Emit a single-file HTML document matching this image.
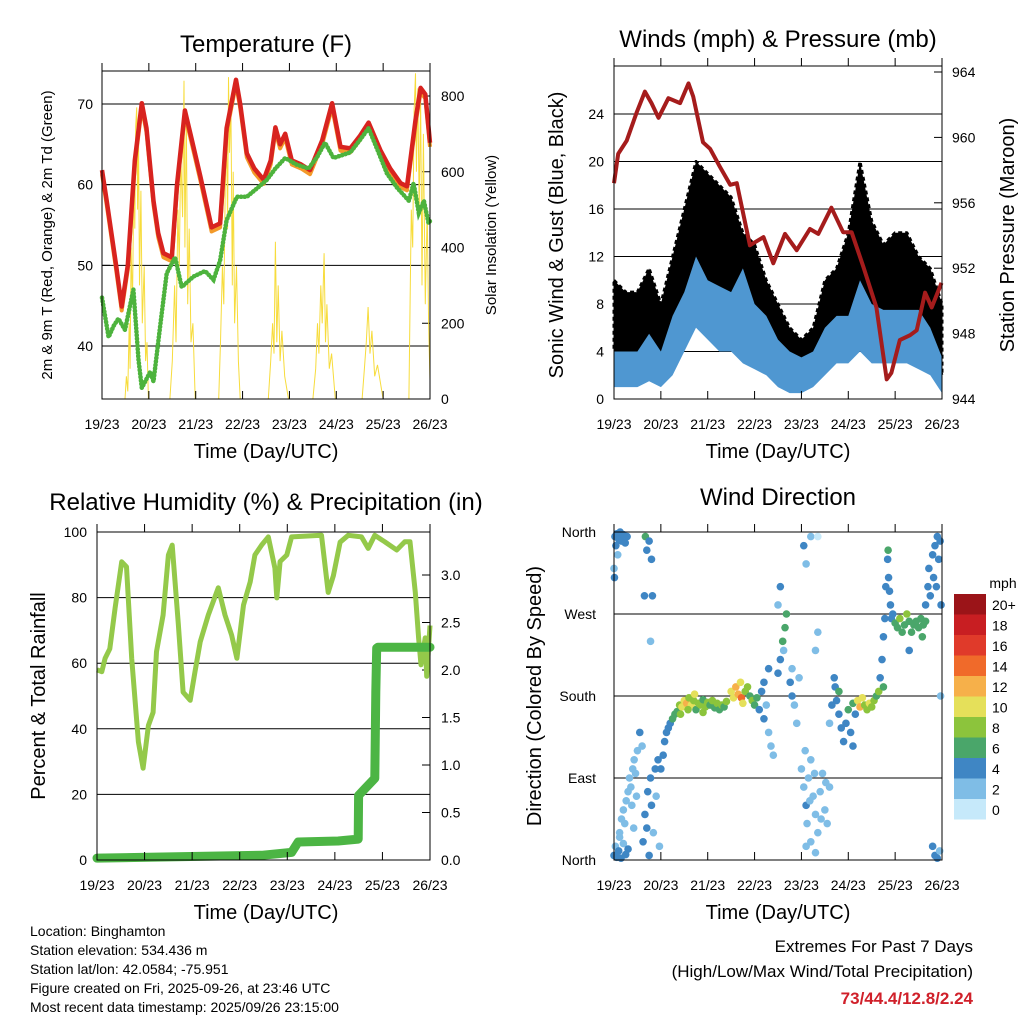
<!DOCTYPE html>
<html><head><meta charset="utf-8">
<style>
body{margin:0;background:#fff;font-family:"Liberation Sans",sans-serif;}
svg text{font-family:"Liberation Sans",sans-serif;fill:#000;}
</style></head>
<body>
<svg id="c" width="1024" height="1024" viewBox="0 0 1024 1024" xmlns="http://www.w3.org/2000/svg">
<rect width="1024" height="1024" fill="#fff"/>
</svg>
<script>
// ---------- data ----------
const dayLabels=["19/23","20/23","21/23","22/23","23/23","24/23","25/23","26/23"];
const tempT=[0,0.1,0.2,0.3,0.42,0.55,0.7,0.85,0.95,1.1,1.2,1.31,1.49,1.6,1.77,1.9,2.1,2.34,2.52,2.66,2.86,2.95,3.09,3.25,3.45,3.6,3.7,3.8,3.91,4.05,4.25,4.44,4.7,4.91,5.09,5.3,5.5,5.69,5.94,6.15,6.37,6.51,6.69,6.8,6.9,7.0];
const tempV=[61.8,58,54,50,44.9,50,63,70.1,67,58,54,51.5,51,60,69.2,66,61,54.7,55.2,67,73,70,63.9,62,60.6,63,67.1,65,66.3,63,62.5,61.8,65.5,70.1,64.7,64.5,66,67.7,64.3,62,60.2,59.8,68,72,71.2,65.2];
const tdT=[0,0.14,0.25,0.35,0.49,0.67,0.78,0.85,1.03,1.1,1.24,1.38,1.56,1.7,1.95,2.2,2.38,2.52,2.66,2.88,3.09,3.3,3.52,3.7,3.91,4.15,4.41,4.6,4.76,4.94,5.3,5.5,5.69,5.9,6.08,6.3,6.55,6.65,6.76,6.87,6.97,7.0];
const tdV=[46,41.1,42.5,43.4,42,47,38.3,34.8,36.8,35.6,42.4,49,51,47.3,48.6,49.3,48.2,50.6,55.6,58.5,58.5,59.5,60.6,62,63.3,62.5,62,63.5,65.2,63.3,64,65.5,67,64,61.4,59.6,58,60.2,56.5,58,55.2,55.5];
const solarT=[0.49,0.52,0.55,0.58,0.6,0.62,0.65,0.68,0.7,0.72,0.74,0.76,0.78,0.8,0.83,0.86,0.9,0.93,0.96,0.99,1.45,1.5,1.55,1.58,1.62,1.65,1.68,1.72,1.75,1.77,1.8,1.83,1.86,1.9,1.94,1.99,2.49,2.53,2.57,2.6,2.63,2.66,2.68,2.7,2.72,2.75,2.78,2.8,2.83,2.87,2.91,2.95,3.55,3.6,3.64,3.67,3.7,3.73,3.76,3.8,3.84,3.9,3.98,4.5,4.56,4.6,4.63,4.67,4.7,4.74,4.77,4.8,4.85,4.9,4.98,5.55,5.6,5.64,5.68,5.72,5.76,5.82,5.88,6.0,6.55,6.58,6.6,6.63,6.66,6.69,6.71,6.74,6.77,6.8,6.83,6.86,6.9,6.94,6.97,7.0];
const solarV=[0,60,20,200,80,400,250,600,450,720,770,500,700,300,550,200,350,100,150,0,0,100,300,150,500,350,650,480,840,400,750,250,450,150,200,0,0,150,350,250,550,700,450,850,650,780,300,600,200,350,100,0,0,100,200,120,415,150,300,100,180,60,0,0,80,200,120,300,200,385,150,250,80,120,0,0,80,150,243,120,180,60,90,0,0,300,500,400,760,860,600,820,500,800,300,700,250,500,200,50];
const windT=[0,0.25,0.5,0.75,1,1.25,1.5,1.75,2,2.25,2.5,2.75,3,3.25,3.5,3.75,4,4.25,4.5,4.75,5,5.25,5.5,5.75,6,6.25,6.5,6.75,7];
const gustLo=[4,4,4,5,3,5,8,11,10,9,8,7,5,4,3,2.5,2.5,3,5,6,6,9,7,6,6,6,6,5,2];
const gustHi=[10,9,9,11,8,12,16,20,19,18,17,14,13,10,8,6,5,6,10,11,14,20,15,13,14,14,12,11,8];
const blueLo=[1,1,1,1.5,1,2,4,6,5,4,4,3,2.5,2,1,0.5,0.5,1,2,3,3,4,3,3,3,3,2.5,2,0.5];
const blueHi=[4,4,4,5.5,4,7,9,12,10,9.5,9,11,8,7,5,4,3.5,4,6,7,7,10,8,7.5,7.5,7.5,7.5,6,3.5];
const presT=[0,0.09,0.27,0.48,0.66,0.8,0.95,1.16,1.41,1.59,1.69,1.9,2.05,2.26,2.48,2.62,2.9,3.19,3.4,3.65,3.9,4.18,4.36,4.64,4.89,5.07,5.32,5.6,5.82,5.92,6.1,6.32,6.46,6.64,6.78,6.99];
const presV=[957.2,959,959.8,961.5,962.8,962.1,961.2,962.4,962.1,963.3,962.5,959.7,959.3,958.2,957.1,957.2,953.4,953.9,952.3,954.1,953.1,954.4,954.1,955.7,954.2,954.2,952.1,949.6,945.2,945.6,947.6,947.9,948.2,950.5,949.6,951.1];
const rhT=[0,0.1,0.17,0.27,0.38,0.52,0.62,0.73,0.87,0.97,1.08,1.18,1.25,1.39,1.5,1.58,1.71,1.81,1.96,2.06,2.17,2.34,2.55,2.69,2.83,2.94,3.08,3.22,3.32,3.46,3.6,3.74,3.78,3.85,3.99,4.09,4.72,4.86,4.97,5.11,5.28,5.56,5.7,5.84,6.05,6.3,6.47,6.58,6.69,6.76,6.81,6.9,6.93,7.0];
const rhV=[58,57.4,61.5,64.4,76.8,90.9,89.4,61.5,36,28,41,45,63.5,74.7,93,96,72,51.2,48.7,57.4,66.5,74.7,83,74.7,68.6,61.5,77.7,84.8,93,96,98.5,89,79.9,91,93,98.5,99,81.6,86.7,96.9,99,98.5,95,99,97,94.5,97,97,81.6,67.7,59.5,67.7,56,71.5];
const prT=[0,3.46,4.09,4.23,5.07,5.49,5.5,5.63,5.84,5.86,5.88,5.91,7];
const prV=[0.02,0.05,0.08,0.19,0.2,0.22,0.68,0.75,0.86,1.77,2.23,2.24,2.24];
const dirPts=[[0.02,355,3],[0.04,345,4],[0.06,358,3],[0.08,335,2],[0.1,352,4],[0.13,360,4],[0.16,350,3],[0.2,357,4],[0.24,348,4],[0.28,355,3],[0.0,320,2],[0.01,310,3],
[0.0,5,3],[0.03,15,2],[0.06,3,4],[0.1,10,3],[0.15,2,4],[0.2,18,2],[0.25,6,3],[0.3,12,4],[0.12,25,2],
[0.12,30,2],[0.16,45,2],[0.2,55,2],[0.23,40,2],[0.26,65,2],[0.3,75,2],[0.33,90,2],[0.36,80,2],[0.4,100,2],[0.43,110,2],[0.46,95,2],[0.5,120,2],[0.55,140,3],[0.6,125,2],[0.38,60,2],[0.42,35,2],[0.48,70,2],
[0.62,20,3],[0.66,50,4],[0.7,35,3],[0.72,75,4],[0.75,5,3],[0.78,90,4],[0.8,60,3],[0.84,30,2],[0.88,100,4],[0.9,70,2],[0.94,110,3],[0.97,15,2],[0.67,355,6],[0.7,340,4],[0.75,350,3],[0.8,330,4],[0.82,290,4],[0.65,290,3],[0.78,240,2],
[1.0,100,3],[1.05,115,4],[1.08,130,4],[1.12,140,4],[1.16,145,4],[1.2,150,4],[1.25,155,5],[1.3,160,6],
[1.35,163,6],[1.4,170,7],[1.45,168,10],[1.5,175,9],[1.55,172,12],[1.6,178,8],[1.65,170,9],[1.7,175,7],[1.75,165,6],[1.8,172,8],[1.85,170,7],[1.9,176,6],[1.95,168,8],[2.0,173,7],[2.05,170,6],[2.1,175,8],[2.15,167,6],[2.2,172,7],[2.25,165,6],[2.3,170,7],[2.35,168,6],[2.4,174,8],[1.42,160,7],[1.58,165,8],[1.72,182,10],[1.9,162,7],
[2.5,185,10],[2.55,178,9],[2.6,190,11],[2.65,182,12],[2.7,195,10],[2.72,178,13],[2.75,172,9],[2.8,185,8],[2.85,190,7],[2.9,180,6],[2.95,175,7],[3.0,170,5],[3.05,178,6],
[3.1,165,4],[3.15,185,3],[3.2,155,4],[3.25,170,2],[3.3,140,2],[3.35,125,2],[3.4,115,2],[3.2,195,4],[3.3,210,3],
[3.5,205,4],[3.55,220,4],[3.6,240,6],[3.65,255,6],[3.68,270,6],[3.62,230,2],[3.5,280,2],[3.55,300,4],
[3.76,195,3],[3.8,180,4],[3.85,170,2],[3.9,150,2],[3.95,200,2],[3.8,210,2],
[4.0,100,2],[4.05,80,2],[4.1,60,4],[4.12,40,2],[4.15,90,1],[4.2,110,1],[4.25,70,2],[4.3,50,2],[4.35,30,2],[4.4,75,2],[4.45,95,2],[4.5,55,2],[4.55,40,1],[4.6,80,2],[4.2,20,1],[4.3,8,1],[4.1,15,2],[4.05,345,4],[4.1,325,2],[4.2,355,1],[4.35,355,0],[4.3,230,1],[4.35,250,2],[4.08,120,1],[4.18,65,2],[4.28,95,2],[4.42,45,2],[4.52,85,2],
[4.6,150,2],[4.65,170,3],[4.7,200,4],[4.72,190,4],[4.75,175,4],[4.8,160,3],[4.85,145,4],[4.9,130,3],[4.95,150,4],[5.0,165,5],[5.05,140,4],[5.1,125,4],[5.15,160,4],[4.8,185,6],[5.1,172,6],
[5.2,175,10],[5.25,168,11],[5.3,178,9],[5.35,170,8],[5.4,165,8],[5.45,172,9],[5.5,168,8],[5.55,175,7],[5.6,180,6],[5.65,185,8],
[5.68,200,4],[5.72,220,4],[5.75,245,4],[5.78,265,3],[5.8,300,3],[5.75,190,6],
[5.84,330,3],[5.86,310,4],[5.88,295,4],[5.9,280,3],[5.92,265,4],[5.85,340,6],[5.95,270,4],
[6.0,260,6],[6.05,255,6],[6.1,265,7],[6.15,250,6],[6.2,258,6],[6.25,270,8],[6.3,262,6],[6.35,250,6],[6.4,258,6],[6.45,262,6],[6.5,255,6],[6.55,265,6],[6.6,258,6],[6.65,262,6],[6.3,230,4],[6.58,245,6],
[6.65,280,4],[6.7,300,4],[6.72,320,4],[6.75,290,4],[6.8,335,4],[6.82,310,4],[6.85,345,4],[6.88,300,3],[6.9,355,4],[6.93,330,4],[6.96,350,3],[6.98,280,3],[6.8,15,3],[6.85,5,4],[6.9,2,3],[6.95,10,2],[6.97,180,2]];
const cbLabels=["0","2","4","6","8","10","12","14","16","18","20+"];
const cbColors=["#c6e9fa","#7fbde6","#3f86c4","#4aa66a","#8cc43c","#e5e05a","#f6b04a","#f06a2a","#e03a2a","#c81e22","#9b1418"];

// ---------- helpers ----------
const S=document.getElementById('c');
const NS="http://www.w3.org/2000/svg";
function mk(tag,attrs,parent){const e=document.createElementNS(NS,tag);for(const k in attrs)e.setAttribute(k,attrs[k]);(parent||S).appendChild(e);return e;}
function txt(x,y,s,size,anchor,rot,parent){const e=mk('text',{x:x,y:y,'font-size':size,'text-anchor':anchor||'middle'},parent);if(rot)e.setAttribute('transform','rotate('+rot+' '+x+' '+y+')');e.textContent=s;return e;}
function lin(d0,d1,p0,p1){return v=>p0+(v-d0)/(d1-d0)*(p1-p0);}
function pathOf(ts,vs,X,Y){return ts.map((t,i)=>(i?'L':'M')+X(t).toFixed(1)+','+Y(vs[i]).toFixed(1)).join('');}
function band(ts,lo,hi,X,Y){const a=ts.map((t,i)=>X(t).toFixed(1)+','+Y(hi[i]).toFixed(1));const b=ts.map((t,i)=>X(t).toFixed(1)+','+Y(lo[i]).toFixed(1)).reverse();return 'M'+a.join('L')+'L'+b.join('L')+'Z';}

function frame(g,x0,y0,x1,y1,X){
  mk('rect',{x:x0,y:y0,width:x1-x0,height:y1-y0,fill:'none',stroke:'#000','stroke-width':1},g);
  dayLabels.forEach((l,i)=>{const x=X(i);mk('line',{x1:x,y1:y1,x2:x,y2:y1-8,stroke:'#000'},g);mk('line',{x1:x,y1:y0,x2:x,y2:y0-8,stroke:'#000'},g);
    const t=txt(x,y1+30,l,14,'middle',0,g);
  });
}

// ===== Panel 1: Temperature =====
{
const g=mk('g',{});
const X=lin(0,7,102,430),Y=lin(40,70,346,104),YS=lin(0,800,399,96);
[40,50,60,70].forEach(v=>{mk('line',{x1:102,x2:430,y1:Y(v),y2:Y(v),stroke:'#000','stroke-width':1},g);mk('line',{x1:102,x2:110,y1:Y(v),y2:Y(v),stroke:'#000'},g);});
[0,200,400,600,800].forEach(v=>{txt(441,YS(v)+5,v,14,'start',0,g);mk('line',{x1:422,x2:430,y1:YS(v),y2:YS(v),stroke:'#000'},g);});
const sp=mk('path',{d:pathOf(solarT,solarV,X,YS),fill:'none',stroke:'#f7dc3c','stroke-width':1},g);
const o=mk('path',{d:pathOf(tempT,tempV.map(v=>v-0.5),X,Y),fill:'none',stroke:'#f39a2a','stroke-width':4,'stroke-linejoin':'round'},g);
const r=mk('path',{d:pathOf(tempT,tempV,X,Y),fill:'none',stroke:'#d8231f','stroke-width':4.5,'stroke-linejoin':'round'},g);
const gr=mk('path',{d:pathOf(tdT,tdV,X,Y),fill:'none',stroke:'#4db33d','stroke-width':4.5,'stroke-dasharray':'0.5 3','stroke-linecap':'round'},g);
[40,50,60,70].forEach(v=>txt(93,Y(v)+5,v,14,'end',0,g));
frame(g,102,71,430,399,X);
const t=txt(266,52,'Temperature (F)',24);
txt(266,458,'Time (Day/UTC)',20);
txt(52,235,'2m & 9m T (Red, Orange) & 2m Td (Green)',15,'middle',-90);
txt(496,235,'Solar Insolation (Yellow)',15,'middle',-90);
}

// ===== Panel 2: Winds =====
{
const g=mk('g',{});
const X=lin(0,7,614,942),Y=lin(0,24,399,114),YP=lin(944,964,399,72);
[4,8,12,16,20,24].forEach(v=>mk('line',{x1:614,x2:942,y1:Y(v),y2:Y(v),stroke:'#000'},g));
[0,4,8,12,16,20,24].forEach(v=>txt(604,Y(v)+5,v,14,'end',0,g));
[944,948,952,956,960,964].forEach(v=>{txt(952,YP(v)+5,v,14,'start',0,g);mk('line',{x1:934,x2:942,y1:YP(v),y2:YP(v),stroke:'#000'},g);});
const gb=mk('path',{d:band(windT,gustLo,gustHi,X,Y),fill:'#000',stroke:'#000','stroke-width':3,'stroke-dasharray':'4 3','stroke-linejoin':'round'},g);
const sb=mk('path',{d:band(windT,blueLo,blueHi,X,Y),fill:'#4f97d1'},g);
const pp=mk('path',{d:pathOf(presT,presV,X,YP),fill:'none',stroke:'#a51c1c','stroke-width':4,'stroke-linejoin':'round'},g);
frame(g,614,66,942,399,X);
txt(778,47,'Winds (mph) & Pressure (mb)',24);
txt(778,458,'Time (Day/UTC)',20);
txt(563,235,'Sonic Wind & Gust (Blue, Black)',20,'middle',-90);
txt(1014,235,'Station Pressure (Maroon)',20,'middle',-90);
}

// ===== Panel 3: RH & Precip =====
{
const g=mk('g',{});
const X=lin(0,7,97,430),Y=lin(0,100,860,532),YR=lin(0,3,860,575);
[20,40,60,80].forEach(v=>mk('line',{x1:97,x2:430,y1:Y(v),y2:Y(v),stroke:'#000'},g));
[0,20,40,60,80,100].forEach(v=>txt(87,Y(v)+5,v,14,'end',0,g));
[0,0.5,1,1.5,2,2.5,3].forEach(v=>{txt(441,YR(v)+5,v.toFixed(1),14,'start',0,g);mk('line',{x1:422,x2:430,y1:YR(v),y2:YR(v),stroke:'#000'},g);});
const rh=mk('path',{d:pathOf(rhT,rhV,X,Y),fill:'none',stroke:'#94c94a','stroke-width':5,'stroke-linejoin':'round'},g);
const pr=mk('path',{d:pathOf(prT,prV,X,YR),fill:'none',stroke:'#4cb544','stroke-width':9,'stroke-linejoin':'round','stroke-linecap':'round'},g);
frame(g,97,532,430,860,X);
txt(266,510,'Relative Humidity (%) & Precipitation (in)',24);
txt(266,919,'Time (Day/UTC)',20);
txt(45,696,'Percent & Total Rainfall',20,'middle',-90);
}

// ===== Panel 4: Wind direction =====
{
const g=mk('g',{});
const X=lin(0,7,614,942),Y=lin(0,360,860,532);
[90,180,270].forEach(v=>mk('line',{x1:614,x2:942,y1:Y(v),y2:Y(v),stroke:'#000'},g));
[["North",0],["East",90],["South",180],["West",270],["North",360]].forEach(a=>txt(596,Y(a[1])+5,a[0],14,'end',0,g));
dirPts.forEach(p=>{
  const ci=Math.max(0,Math.min(10,Math.round(p[2]/2)));
  const c=mk('circle',{cx:X(p[0]),cy:Y(p[1]),r:3.8,fill:cbColors[ci]},g);
  
  
});
frame(g,614,532,942,860,X);
txt(778,505,'Wind Direction',24);
txt(778,919,'Time (Day/UTC)',20);
txt(541,696,'Direction (Colored By Speed)',20,'middle',-90);
const lg=mk('g',{},g);
txt(1003,588,'mph',14,'middle',0,lg);
cbColors.forEach((c,i)=>{const y=799-i*20.5;mk('rect',{x:954,y:y,width:32,height:20.5,fill:c},lg);txt(992,y+16,cbLabels[i],14,'start',0,lg);});
}

// ===== footer =====
{
const g=mk('g',{});
["Location: Binghamton","Station elevation: 534.436 m","Station lat/lon: 42.0584; -75.951","Figure created on Fri, 2025-09-26, at 23:46 UTC","Most recent data timestamp: 2025/09/26 23:15:00"].forEach((s,i)=>txt(30,936+i*19,s,14,'start',0,g));
const e=mk('g',{});
txt(973,952,'Extremes For Past 7 Days',17,'end',0,e);
txt(973,977,'(High/Low/Max Wind/Total Precipitation)',17,'end',0,e);
const r=txt(973,1004,'73/44.4/12.8/2.24',17,'end',0,e);r.setAttribute('font-weight','bold');r.style.fill='#d0202a';
}
</script>
</body></html>
